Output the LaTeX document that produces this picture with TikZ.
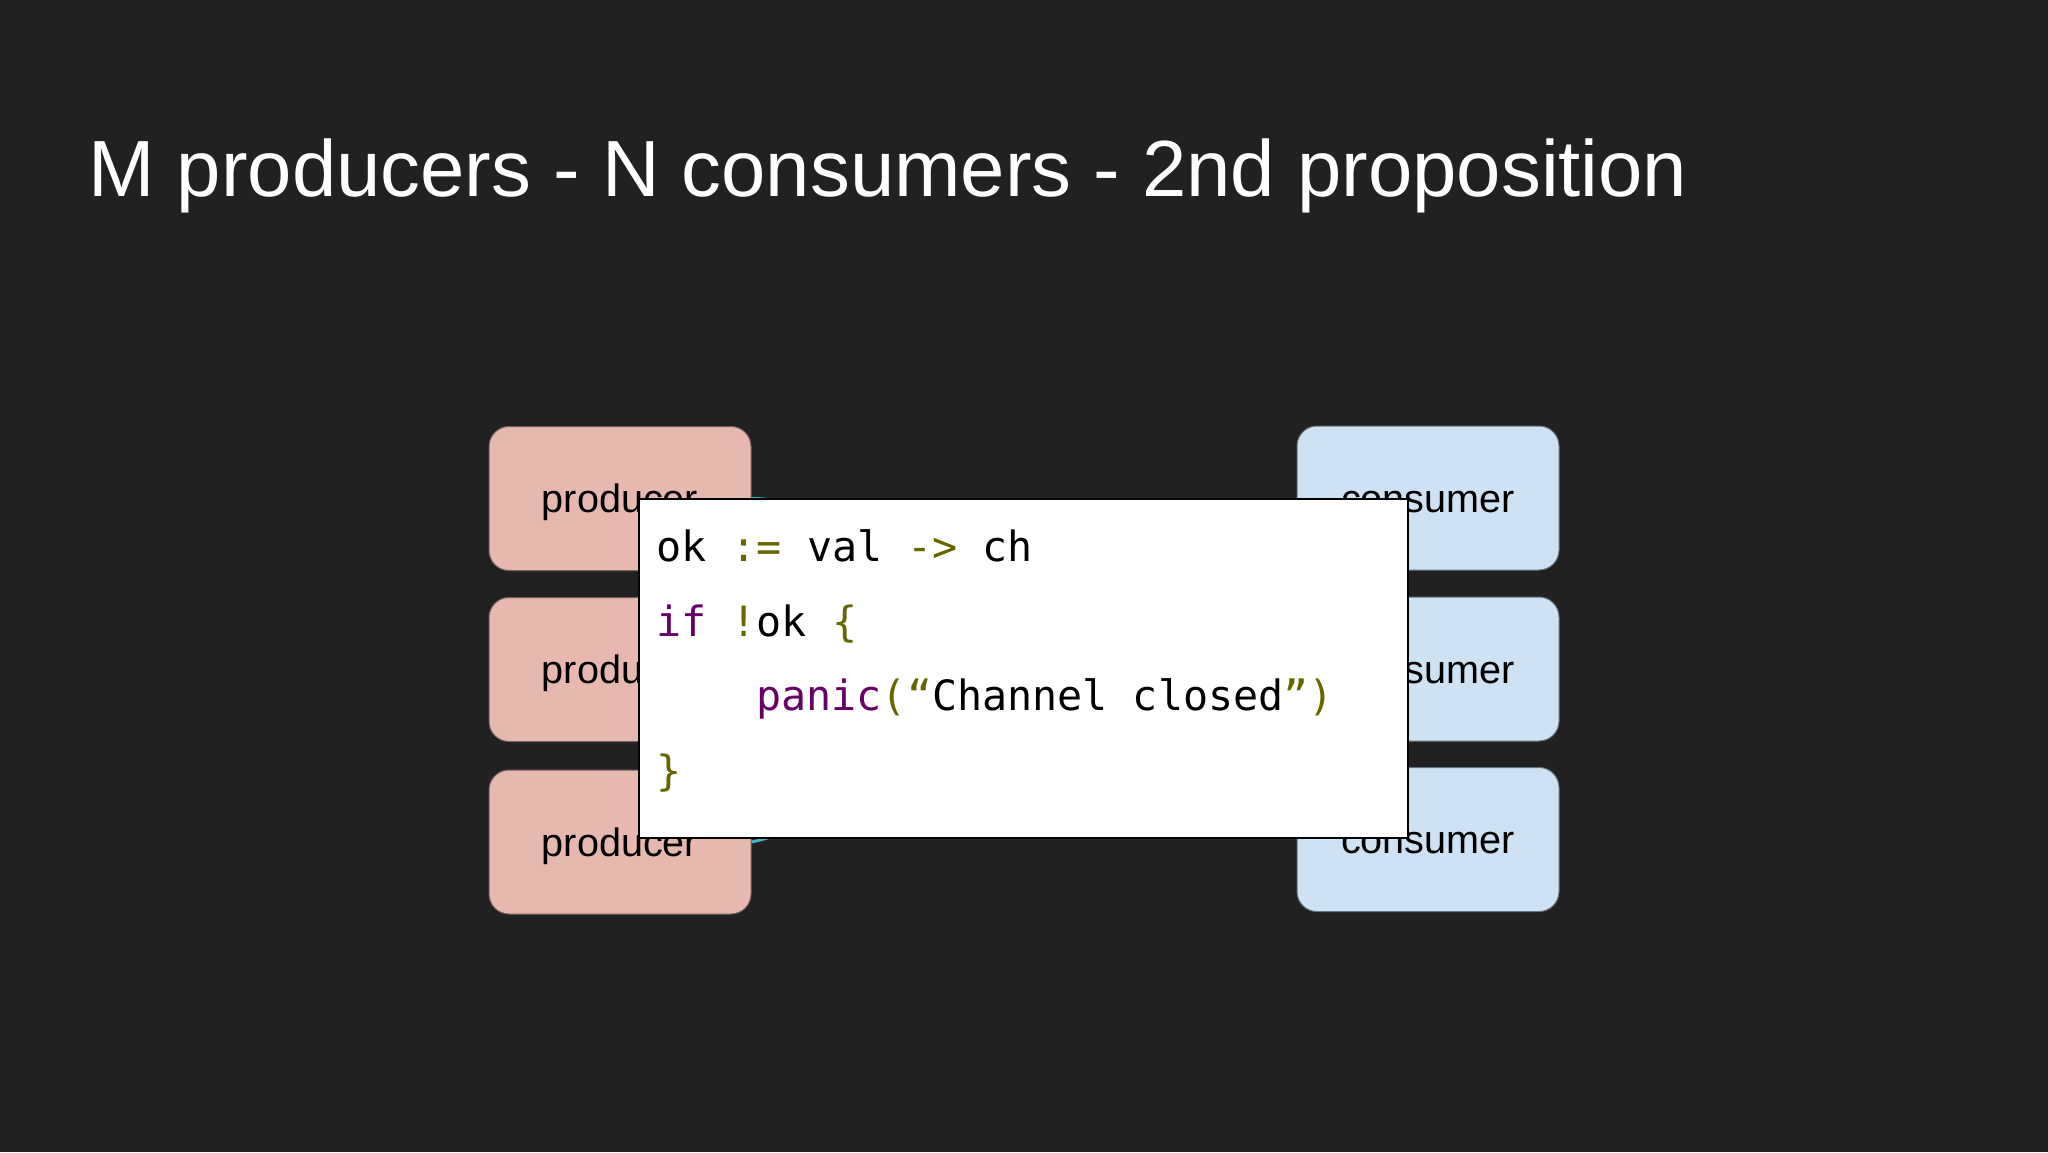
\documentclass[tikz,border=0pt]{standalone}
\usepackage{fontspec}
\setmainfont{Liberation Sans}
\newfontfamily\codefont{DejaVu Sans Mono}
\definecolor{bg}{RGB}{33,33,33}
\definecolor{prodfill}{RGB}{230,184,175}
\definecolor{prodedge}{RGB}{120,95,92}
\definecolor{consfill}{RGB}{207,226,243}
\definecolor{consedge}{RGB}{100,115,130}
\definecolor{olv}{RGB}{102,102,0}
\definecolor{purp}{RGB}{102,0,102}
\definecolor{teal}{RGB}{64,180,196}
\frenchspacing
\begin{document}
\begin{tikzpicture}[x=0.5pt,y=-0.5pt,
  rolebox/.style={rounded corners=10pt, line width=0.5pt, minimum width=131pt,
    minimum height=72pt, inner sep=0pt, text height=14pt, text depth=0pt,
    font=\fontsize{19.8pt}{23pt}\selectfont, text=black},
  prodbox/.style={rolebox, fill=prodfill, draw=prodedge},
  consbox/.style={rolebox, fill=consfill, draw=consedge},
  conn/.style={draw=teal, line width=1.5pt},
  codebox/.style={fill=white, draw=black, line width=1pt, minimum width=384.5pt,
    minimum height=169.5pt, inner sep=0pt},
  codeline/.style={anchor=base west, inner sep=0pt, text=black,
    font=\codefont\fontsize{20.85pt}{24pt}\selectfont}]
\fill[bg] (0,0) rectangle (2048,1152);
\useasboundingbox (0,0) rectangle (2048,1152);

\node[anchor=base west, inner sep=0pt, text=white,
  font=\fontsize{39.85pt}{48pt}\selectfont] (title) at (88,196)
  {M producers - N consumers - 2nd proposition};

% hidden channel point
\coordinate (chan) at (1024,668);

\node[prodbox] (p1) at (620,498.5) {producer};
\node[prodbox] (p2) at (620,669.5) {producer};
\node[prodbox] (p3) at (620,842) {producer};
\node[consbox] (c1) at (1428,498) {consumer};
\node[consbox] (c2) at (1428,669) {consumer};
\node[consbox] (c3) at (1428,839.5) {consumer};

% connectors (mostly hidden behind the code box)
\draw[conn] (p1.east) to[out=0,in=180] (chan);
\draw[conn] (p2.east) to[out=0,in=180] (chan);
\draw[conn] (p3.east) to[out=12,in=190] (chan);
\draw[conn] (chan) to[out=0,in=200] (c1.182);
\draw[conn] (chan) to[out=0,in=180] (c2.west);
\draw[conn] (chan) to[out=0,in=180] (c3.165);

\node[codebox] (code) at (1023.5,668.5) {};
\node[codeline] (code1) at (656,561.7)
  {ok {\color{olv}:=} val {\color{olv}->} ch};
\node[codeline] (code2) at (656,636.7)
  {{\color{purp}if} {\color{olv}!}ok {\color{olv}\{}};
\node[codeline] (code3) at (756,710.7)
  {{\color{purp}panic}{\color{olv}(“}Channel closed{\color{olv}”)}};
\node[codeline] (code4) at (656,785)
  {{\color{olv}\}}};
\end{tikzpicture}
\end{document}
